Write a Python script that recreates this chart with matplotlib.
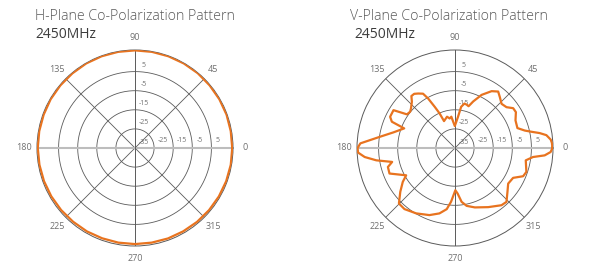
import numpy as np
import matplotlib
matplotlib.use('Agg')
import matplotlib.pyplot as plt

plt.rcParams['font.family'] = ['Open Sans', 'DejaVu Sans']

# ---- data ----
titles = ['H-Plane Co-Polarization Pattern', 'V-Plane Co-Polarization Pattern']
freq_label = '2450MHz'

ring_levels = [-25, -15, -5, 5]
vert_labels = [5, -5, -15, -25, -35]
horiz_labels = [-25, -15, -5, 5]
angle_ticks = [0, 45, 90, 135, 180, 225, 270, 315]
angle_labels = ['0', '45', '90', '135', '180', '225', '270', '315']

h_angles = [0, 10, 20, 30, 40, 50, 60, 70, 80, 90, 100, 110, 120, 130, 140, 150, 160, 170,
            180, 190, 200, 210, 220, 230, 240, 250, 260, 270, 280, 290, 300, 310, 320, 330,
            340, 350, 360]
h_values = [15.9, 15.9, 16.0, 16.0, 16.0, 16.1, 16.1, 16.1, 16.1, 16.1, 16.1, 16.1, 16.1, 16.0,
            16.0, 16.0, 15.9, 15.9, 15.9, 15.8, 15.7, 15.6, 15.5, 15.4, 15.4, 15.3, 15.3, 15.3,
            15.3, 15.4, 15.4, 15.5, 15.6, 15.7, 15.8, 15.9, 15.9]

v_angles = [0, 3, 5, 8, 10, 12, 14, 17.7, 24.5, 30.5, 34.4, 38.4, 43.5, 48.6, 52.6,
            57.2, 63.4, 68.6, 72, 75, 78, 81.5, 84.5, 90.5, 96.7, 100.2, 104.3, 112.2,
            114, 116.2, 118.5, 120.5, 124, 127, 130, 133, 138, 141, 145, 148.4, 154.3,
            157.4, 158.9, 165.7, 171.4, 174.6, 177.2, 180, 182.7, 185.7, 188.9, 192.5,
            195.8, 201.3, 209.2, 213, 218.7, 224.7, 230.4, 239.3, 249.1, 256.6, 262.3,
            265.8, 270.5, 273.3, 277, 281.4, 288.5, 299.3, 309.1, 313.7, 320.1, 326.2,
            332.8, 337.5, 341.5, 350.1, 353.4, 355.3, 357.6, 360]
v_values = [16.0, 15.8, 15.3, 13.3, 10.0, 5.9, 2.7, -0.7, -0.2, 2.0, 1.9, -0.6, -1.4, 0.5, 2.2,
            0.4, -3.9, -8.8, -12.0, -11.5, -11.2, -13.2, -18.6, -23.5, -18.5, -19.3, -18.1, -19.8,
            -15.2, -11.0, -5.5, -2.0, -0.6, 0.5, 0.5, -1.9, -4.0, -4.8, -4.3, 2.8, 2.7,
            0.8, -6.5, -1.8, 4.6, 9.5, 14.6, 16.0, 15.8, 12.5, 6.7, -1.3,
            1.5, 1.8, -5.7, -2.4, 1.7, 6.3, 6.5, 4.8, 2.6, 0.2, -2.7,
            -6.8, -12.9, -11.1, -6.6, -4.1, -2.2, 0.5, 3.6, 4.0, 0.8, -1.5,
            -0.8, 3.6, 4.4, 2.6, 6.1, 12.1, 15.1, 16.0]

R_MIN, R_MAX = -35, 16.3
ORANGE = '#E8731F'
GRID = '#5a5a5a'
LABEL = '#707070'

W, H = 589, 271
fig = plt.figure(figsize=(W / 100, H / 100), dpi=100)


def polar_axes(cx, cy, rad):
    ax = fig.add_axes([(cx - rad) / W, (H - cy - rad) / H, 2 * rad / W, 2 * rad / H],
                      projection='polar')
    ax.set_ylim(R_MIN, R_MAX)
    ax.grid(False)
    ax.set_yticks([])
    ax.set_xticks(np.deg2rad(angle_ticks))
    ax.set_xticklabels(angle_labels, fontsize=6.5, color=LABEL)
    ax.set_xticks(np.deg2rad(np.arange(0, 360, 5)), minor=True)
    ax.tick_params(axis='x', which='major', length=0, pad=2)
    ax.tick_params(axis='x', which='minor', length=2.5, direction='in', color=GRID, width=0.5)
    ax.spines['polar'].set_color(GRID)
    ax.spines['polar'].set_linewidth(0.7)
    th = np.linspace(0, 2 * np.pi, 361)
    for lv in ring_levels:
        ax.plot(th, np.full_like(th, lv), color=GRID, lw=0.6, zorder=1)
    for a in [45, 135, 225, 315]:
        ax.plot([np.deg2rad(a)] * 2, [R_MIN, R_MAX], color=GRID, lw=0.6, zorder=1)
    ax.plot([0, 0], [R_MIN, R_MAX], color='#bdbdbd', lw=1.5, zorder=1)
    ax.plot([np.pi, np.pi], [R_MIN, R_MAX], color='#bdbdbd', lw=1.5, zorder=1)
    ax.plot([np.pi / 2] * 2, [R_MIN, R_MAX], color=GRID, lw=0.7, zorder=1)
    ax.plot([3 * np.pi / 2] * 2, [R_MIN, R_MAX], color=GRID, lw=0.7, zorder=1)
    for lv in vert_labels:
        ax.annotate(str(lv), xy=(np.pi / 2, lv), xytext=(9, 6), textcoords='offset pixels',
                    ha='center', va='center', fontsize=5, color=LABEL, zorder=2)
    for lv in horiz_labels:
        ax.annotate(str(lv), xy=(0, lv), xytext=(4, 7), textcoords='offset pixels',
                    ha='left', va='center', fontsize=5, color=LABEL, zorder=2)
    return ax


ax1 = polar_axes(135, 148, 98)
ax1.plot(np.deg2rad(h_angles), h_values, color=ORANGE, lw=1.6, zorder=3)
ax2 = polar_axes(455, 148, 98)
ax2.plot(np.deg2rad(v_angles), v_values, color=ORANGE, lw=1.6, zorder=3)

for x0, t in [(35, titles[0]), (350, titles[1])]:
    fig.text(x0 / W, 1 - 16 / H, t, ha='left', va='center', fontsize=10.2,
             color='#5a5a5a', fontweight='light')
for x0 in [35, 354]:
    fig.text(x0 / W, 1 - 35 / H, freq_label, ha='left', va='center', fontsize=10,
             color='#3c3c3c')

fig.savefig('out.png', dpi=100)
